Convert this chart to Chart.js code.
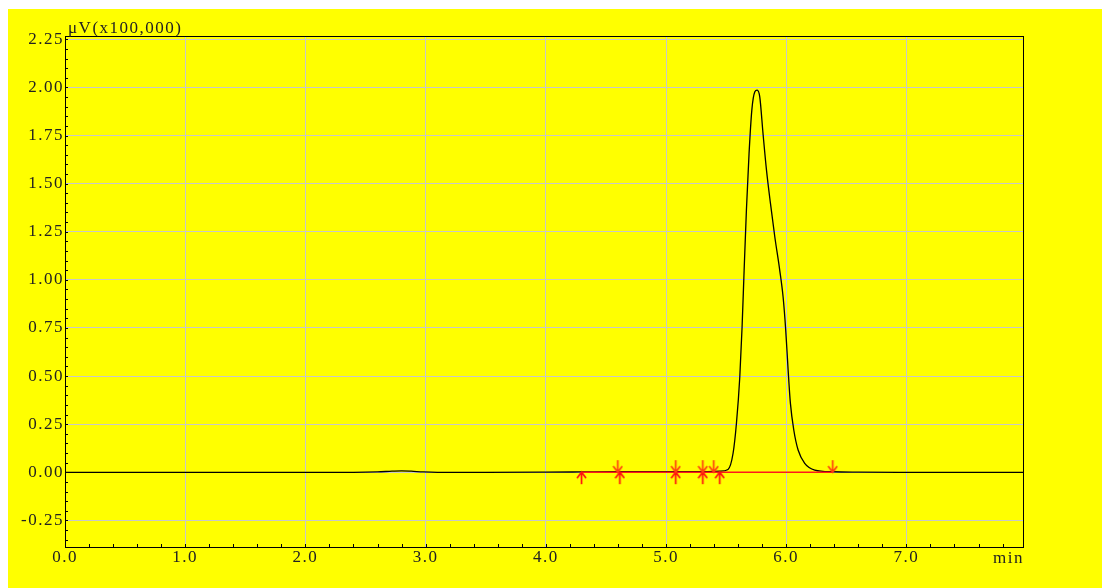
<!DOCTYPE html>
<html>
<head>
<meta charset="utf-8">
<script src="https://cdn.jsdelivr.net/npm/chart.js@4.4.1/dist/chart.umd.min.js"></script>
<style>
  html, body { margin: 0; background: #ffffff; }
  #wrap { position: absolute; left: 8px; top: 9px; width: 1094px; height: 579px; background: #ffff00; }
</style>
</head>
<body>
<div id="wrap"><canvas id="chromatogram" width="1094" height="579"></canvas></div>
<script>
// detector trace, signal in units of 100,000 uV
const traceTimes = [
  0.00, 0.50, 1.00, 1.50, 2.00, 2.40, 2.60, 2.72, 2.80, 2.88, 2.98, 3.10, 3.50, 4.00,
  4.30, 4.60, 5.00, 5.30, 5.45, 5.516, 5.558, 5.586, 5.614, 5.633, 5.650, 5.669, 5.691,
  5.714, 5.739, 5.758, 5.780, 5.807, 5.836, 5.869, 5.905, 5.946, 5.974, 5.996, 6.016,
  6.035, 6.063, 6.099, 6.154, 6.238, 6.390, 6.600, 7.000, 7.500, 7.970,
];
const traceSignal = [
  0.000, 0.000, 0.000, 0.000, 0.000, 0.000, 0.002, 0.006, 0.008, 0.006, 0.002, 0.000, 0.000, 0.001,
  0.002, 0.003, 0.004, 0.004, 0.006, 0.015, 0.099, 0.255, 0.497, 0.756, 1.051, 1.363, 1.657,
  1.882, 1.977, 1.986, 1.951, 1.761, 1.570, 1.397, 1.224, 1.051, 0.912, 0.739, 0.531,
  0.358, 0.220, 0.116, 0.047, 0.012, 0.003, 0.001, 0.000, 0.000, 0.000,
];

// integration baseline and peak start / end marks
const baselineTimes = [4.297, 6.387];
const baselineSignal = [0.000, 0.001];
const peakStartTimes = [4.297, 4.616, 5.081, 5.306, 5.447];
const peakEndTimes = [4.599, 5.081, 5.306, 5.397, 6.387];

const xTickValues = [0, 1, 2, 3, 4, 5, 6, 7];
const yTickValues = [-0.25, 0, 0.25, 0.5, 0.75, 1, 1.25, 1.5, 1.75, 2, 2.25];

const X_MIN = 0, X_MAX = 7.97;
const Y_MIN = -0.388, Y_MAX = 2.267;

const labelFont = { family: '"Liberation Serif", serif', size: 17 };
const textColor = '#222222';
const gridColor = '#c8c8c8';

function makeArrow(color, up) {
  const c = document.createElement('canvas');
  c.width = 11;
  c.height = 28;
  const g = c.getContext('2d');
  const cx = 5.5, mid = 14;
  g.strokeStyle = color;
  g.lineWidth = 1.7;
  g.beginPath();
  if (up) {
    g.moveTo(cx, mid); g.lineTo(cx, mid + 12);
    g.moveTo(cx - 4.5, mid + 6); g.lineTo(cx, mid); g.lineTo(cx + 4.5, mid + 6);
  } else {
    g.moveTo(cx, mid - 12); g.lineTo(cx, mid);
    g.moveTo(cx - 4.5, mid - 6); g.lineTo(cx, mid); g.lineTo(cx + 4.5, mid - 6);
  }
  g.stroke();
  return c;
}

const upArrow = makeArrow('#ff1010', true);
const downArrow = makeArrow('#ff4010', false);

const toPoints = (xs, ys) => xs.map((x, i) => ({ x, y: ys[i] }));

// wide label spacing like the instrument printout
const spacingPlugin = {
  id: 'spacing',
  beforeDraw(chart) {
    chart.ctx.letterSpacing = '1.5px';
  },
};

// frame, inward minor ticks and unit captions
const framePlugin = {
  id: 'frame',
  afterDraw(chart) {
    const { ctx, chartArea: a, scales } = chart;
    ctx.save();
    ctx.strokeStyle = '#000000';
    ctx.lineWidth = 1;
    ctx.beginPath();
    for (let t = 0.2; t < X_MAX; t += 0.2) {
      const px = Math.round(scales.x.getPixelForValue(t)) + 0.5;
      ctx.moveTo(px, a.bottom);
      ctx.lineTo(px, a.bottom - 3);
    }
    for (let v = -0.35; v < Y_MAX; v += 0.05) {
      const py = Math.round(scales.y.getPixelForValue(v)) + 0.5;
      ctx.moveTo(a.left, py);
      ctx.lineTo(a.left + 3, py);
    }
    ctx.stroke();
    ctx.strokeRect(Math.round(a.left) + 0.5, Math.round(a.top) + 0.5,
      Math.round(a.right - a.left), Math.round(a.bottom - a.top));

    ctx.fillStyle = textColor;
    ctx.font = '17px "Liberation Serif", serif';
    ctx.textBaseline = 'alphabetic';
    ctx.textAlign = 'left';
    ctx.fillText('\u03bcV(x100,000)', a.left + 3, a.top - 3);
    ctx.textAlign = 'right';
    ctx.fillText('min', a.right + 1, a.bottom + 16);
    ctx.restore();
  },
};

new Chart(document.getElementById('chromatogram'), {
  type: 'line',
  data: {
    datasets: [
      {
        type: 'scatter',
        data: peakEndTimes.map((x) => ({ x, y: 0.001 })),
        pointStyle: downArrow,
        pointRadius: 6,
        showLine: false,
      },
      {
        type: 'scatter',
        data: peakStartTimes.map((x) => ({ x, y: 0.001 })),
        pointStyle: upArrow,
        pointRadius: 6,
        showLine: false,
      },
      {
        data: toPoints(baselineTimes, baselineSignal),
        borderColor: '#ff1a1a',
        borderWidth: 1.5,
        pointRadius: 0,
      },
      {
        data: toPoints(traceTimes, traceSignal),
        borderColor: '#000000',
        borderWidth: 1.3,
        pointRadius: 0,
        cubicInterpolationMode: 'monotone',
      },
    ],
  },
  options: {
    responsive: false,
    animation: false,
    layout: { padding: { top: 27, right: 79, left: 0, bottom: 0 } },
    plugins: { legend: { display: false }, tooltip: { enabled: false } },
    scales: {
      x: {
        type: 'linear',
        min: X_MIN,
        max: X_MAX,
        afterBuildTicks: (s) => { s.ticks = xTickValues.map((value) => ({ value })); },
        afterFit: (s) => { s.height = 41; },
        ticks: {
          callback: (v) => Number(v).toFixed(1),
          font: labelFont,
          color: textColor,
          padding: 0,
          maxRotation: 0,
          autoSkip: false,
        },
        grid: { color: gridColor, drawTicks: false },
        border: { display: false },
      },
      y: {
        min: Y_MIN,
        max: Y_MAX,
        afterBuildTicks: (s) => { s.ticks = yTickValues.map((value) => ({ value })); },
        afterFit: (s) => { s.width = 57; },
        ticks: {
          callback: (v) => Number(v).toFixed(2),
          font: labelFont,
          color: textColor,
          padding: 1,
          autoSkip: false,
        },
        grid: { color: gridColor, drawTicks: false },
        border: { display: false },
      },
    },
  },
  plugins: [spacingPlugin, framePlugin],
});
</script>
</body>
</html>
